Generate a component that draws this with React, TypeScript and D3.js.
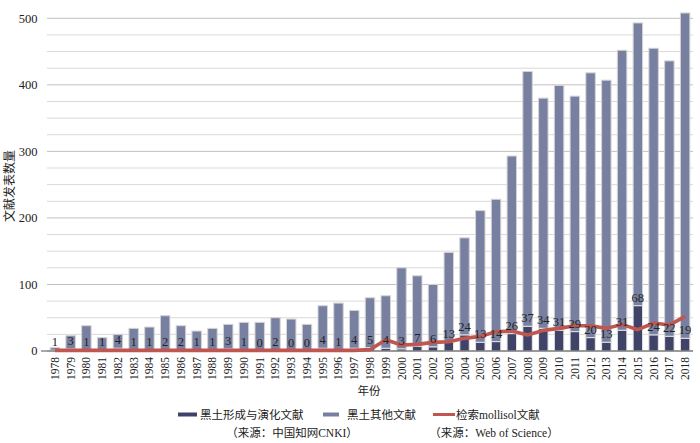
import React from "react";
import * as d3 from "d3";

const years: string[] = [
  "1978","1979","1980","1981","1982","1983","1984","1985","1986","1987",
  "1988","1989","1990","1991","1992","1993","1994","1995","1996","1997",
  "1998","1999","2000","2001","2002","2003","2004","2005","2006","2007",
  "2008","2009","2010","2011","2012","2013","2014","2015","2016","2017","2018",
];

// 黑土形成与演化文献
const formation: number[] = [
  1,3,1,1,4,1,1,2,2,1,1,3,1,0,2,0,0,4,1,4,5,4,3,7,6,13,24,13,14,26,37,34,31,29,20,13,31,68,24,22,19,
];

// 黑土其他文献
const other: number[] = [
  4,20,37,19,21,33,35,51,36,29,33,37,42,43,48,48,40,64,71,57,75,79,122,106,94,135,146,198,214,267,
  383,346,368,354,398,394,421,425,431,414,489,
];

// 检索mollisol文献
const mollisol: number[] = [
  1,1,1,1,1,1,1,1,1,1,1,1,1,1,1,1,1,1,1,1,2,17,9,10,13,14,19,22,29,30,24,31,34,38,38,34,40,32,42,39,52,
];

const yTicks: number[] = [0, 100, 200, 300, 400, 500];
const gridTicks: number[] = d3.range(0, 501, 25);

const legendItems = {
  formation: "黑土形成与演化文献",
  other: "黑土其他文献",
  mollisol: "检索mollisol文献",
  srcCnki: "（来源：中国知网CNKI）",
  srcWos: "（来源：Web of Science）",
};

const SERIF = "'Liberation Serif', 'Times New Roman', 'DejaVu Serif', serif";
const CJK = "'Liberation Serif', 'Noto Sans CJK SC', serif";

const DARK = "#3f4368";
const LIGHT = "#7880a1";
const RED = "#bf564f";

export default function App() {
  const W = 700;
  const H = 443;
  const left = 47;
  const right = 693;
  const y0 = 351;
  const yTop = 18.3;

  const x = d3.scaleBand<string>().domain(years).range([left, right]).paddingInner(0.4).paddingOuter(0.2);
  const y = d3.scaleLinear().domain([0, 500]).range([y0, yTop]);
  const bw = x.bandwidth();
  const cx = (yr: string) => (x(yr) as number) + bw / 2;

  const line = d3
    .line<number>()
    .x((_, i) => cx(years[i]))
    .y((v) => y(v))
    .curve(d3.curveLinear);

  return (
    <svg width={W} height={H} style={{ position: "absolute", left: 0, top: 0, background: "#fff" }}>
      {gridTicks.map((t) => (
        <line
          key={"g" + t}
          x1={left}
          x2={right}
          y1={y(t)}
          y2={y(t)}
          stroke={t % 100 === 0 ? "#c4c0c0" : "#dcd8d8"}
          strokeWidth={1}
        />
      ))}
      {yTicks.map((t) => (
        <text
          key={"yt" + t}
          x={37.5}
          y={y(t)}
          dy="0.35em"
          textAnchor="end"
          fontFamily={SERIF}
          fontSize={12.5}
          fill="#222"
        >
          {t}
        </text>
      ))}
      <text
        transform={`translate(14,186) rotate(-90)`}
        textAnchor="middle"
        fontFamily={CJK}
        fontSize={12}
        fill="#222"
      >
        文献发表数量
      </text>

      {years.map((yr, i) => {
        const bx = x(yr) as number;
        const total = formation[i] + other[i];
        return (
          <g key={"b" + yr}>
            <rect
              x={bx}
              y={y(total)}
              width={bw}
              height={y(formation[i]) - y(total)}
              fill={LIGHT}
              stroke="#d6d3d3"
              strokeWidth={1}
            />
            <rect
              x={bx}
              y={y(formation[i])}
              width={bw}
              height={y0 - y(formation[i])}
              fill={DARK}
              stroke="#e6e4e4"
              strokeWidth={1}
            />
          </g>
        );
      })}

      <line x1={left - 6} x2={right} y1={y0} y2={y0} stroke="#555" strokeWidth={1} />

      <path d={line(mollisol) || ""} fill="none" stroke={RED} strokeWidth={3.6} strokeLinejoin="round" />

      {years.map((yr, i) => (
        <text
          key={"l" + yr}
          x={cx(yr)}
          y={y(formation[i]) - 4}
          textAnchor="middle"
          fontFamily={SERIF}
          fontSize={12.5}
          fill="#222"
        >
          {formation[i]}
        </text>
      ))}

      {years.map((yr) => (
        <text
          key={"xt" + yr}
          transform={`translate(${cx(yr) + 4},357) rotate(-90)`}
          textAnchor="end"
          fontFamily={SERIF}
          fontSize={11.5}
          fill="#222"
        >
          {yr}
        </text>
      ))}

      <text x={369} y={395} textAnchor="middle" fontFamily={CJK} fontSize={11.5} fill="#222">
        年份
      </text>

      <rect x={178} y={412.5} width={19} height={4} fill={DARK} />
      <text x={200} y={418.5} fontFamily={CJK} fontSize={11.5} fill="#222">
        {legendItems.formation}
      </text>
      <rect x={323} y={412.5} width={16} height={4} fill={LIGHT} />
      <text x={347} y={418.5} fontFamily={CJK} fontSize={11.5} fill="#222">
        {legendItems.other}
      </text>
      <line x1={433} x2={455} y1={414.5} y2={414.5} stroke={RED} strokeWidth={3} />
      <text x={456} y={418.5} fontFamily={CJK} fontSize={11.5} fill="#222">
        {legendItems.mollisol}
      </text>
      <text x={292} y={437} textAnchor="middle" fontFamily={CJK} fontSize={11.5} fill="#222">
        {legendItems.srcCnki}
      </text>
      <text x={494} y={437} textAnchor="middle" fontFamily={CJK} fontSize={11.5} fill="#222">
        {legendItems.srcWos}
      </text>
    </svg>
  );
}
